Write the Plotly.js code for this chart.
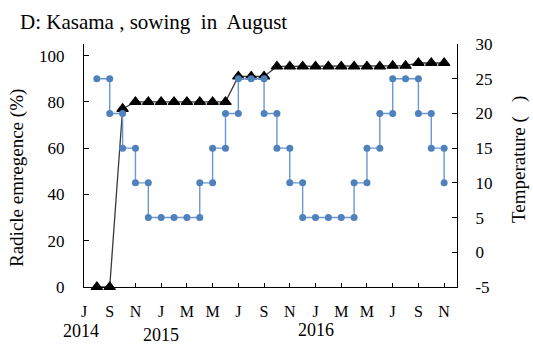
<!DOCTYPE html>
<html>
<head>
<meta charset="utf-8">
<script src="https://cdn.plot.ly/plotly-3.0.1.min.js"></script>
<style>html,body{margin:0;padding:0;background:#fff;}#chart{width:533px;height:347px;}</style>
</head>
<body>
<div id="chart"></div>
<script>
// Month index: 0 = Jul 2014 ... 28 = Nov 2016
var monthTicks = [0, 2, 4, 6, 8, 10, 12, 14, 16, 18, 20, 22, 24, 26, 28];
var monthLabels = ["J", "S", "N", "J", "M", "M", "J", "S", "N", "J", "M", "M", "J", "S", "N"];

// Radicle emergence (%) — left axis
var emergenceMonth = [1, 2, 3, 4, 5, 6, 7, 8, 9, 10, 11, 12, 13, 14, 15, 16, 17, 18, 19, 20, 21, 22, 23, 24, 25, 26, 27, 28];
var emergenceValue = [0, 0, 77, 80, 80, 80, 80, 80, 80, 80, 80, 91, 91, 91, 95.3, 95.3, 95.3, 95.3, 95.3, 95.3, 95.3, 95.3, 95.3, 95.6, 95.6, 96.8, 96.8, 96.8];
var leftTicks = [0, 20, 40, 60, 80, 100];

// Temperature (step outline) — right axis
var tempMonth = [1, 2, 2, 3, 3, 4, 4, 5, 5, 6, 7, 8, 9, 9, 10, 10, 11, 11, 12, 12, 13, 14, 14, 15, 15, 16, 16, 17, 17, 18, 19, 20, 21, 21, 22, 22, 23, 23, 24, 24, 25, 26, 26, 27, 27, 28, 28];
var tempValue = [25, 25, 20, 20, 15, 15, 10, 10, 5, 5, 5, 5, 5, 10, 10, 15, 15, 20, 20, 25, 25, 25, 20, 20, 15, 15, 10, 10, 5, 5, 5, 5, 5, 10, 10, 15, 15, 20, 20, 25, 25, 25, 20, 20, 15, 15, 10];
var rightTicks = [-5, 0, 5, 10, 15, 20, 25, 30];
var rightTickLabels = ["-5", "0", "5", "10", "15", "20", "25", "30"];

var years = ["2014", "2015", "2016"];
var yearMonth = [0, 6, 18];

var serif = "Liberation Serif, Times New Roman, serif";

var traces = [
  {
    x: emergenceMonth, y: emergenceValue, type: "scatter", mode: "lines+markers",
    line: {color: "#3a3a3a", width: 1.3},
    marker: {symbol: "triangle-up", size: 10, color: "#000", line: {color: "#000", width: 1.2}},
    cliponaxis: false, yaxis: "y", hoverinfo: "skip"
  },
  {
    x: tempMonth, y: tempValue, type: "scatter", mode: "lines+markers",
    line: {color: "#6b98d0", width: 1.4},
    marker: {symbol: "circle", size: 7, color: "#4f81bd"},
    cliponaxis: false, yaxis: "y2", hoverinfo: "skip"
  }
];

var yearShift = [-3, 0, 0];
var yearY = [-0.181, -0.198, -0.177];
var annotations = years.map(function (t, i) {
  return {text: t, x: yearMonth[i], xref: "x", y: yearY[i], yref: "paper",
    xshift: yearShift[i], showarrow: false, xanchor: "center", yanchor: "middle",
    font: {family: serif, size: 18, color: "#000"}};
});
annotations.push({text: "Radicle\u00a0emregence\u00a0(%)", textangle: -90,
  x: (17 - 84) / 373, xref: "paper", xanchor: "center",
  y: (287 - 178) / 243, yref: "paper", yanchor: "middle", showarrow: false,
  font: {family: serif, size: 19, color: "#000"}});
annotations.push({text: "Temperature\u00a0(\u00a0\u00a0\u00a0)", textangle: -90,
  x: (532 - 84) / 373, xref: "paper", xanchor: "right",
  y: (287 - 160) / 243, yref: "paper", yanchor: "middle", showarrow: false,
  font: {family: serif, size: 19, color: "#000"}});

var layout = {
  width: 533, height: 347,
  margin: {l: 84, r: 76, t: 44, b: 60, pad: 0},
  paper_bgcolor: "#fff", plot_bgcolor: "#fff",
  showlegend: false,
  title: {text: "D:\u00a0Kasama\u00a0,\u00a0sowing\u00a0 in\u00a0 August", x: 20 / 533, xref: "container", xanchor: "left",
    y: 1 - 22 / 347, yref: "container", yanchor: "middle",
    font: {family: serif, size: 21, color: "#000"}},
  xaxis: {
    range: [0, 29], tickmode: "array", tickvals: monthTicks, ticktext: monthLabels,
    ticks: "inside", ticklen: 4, tickcolor: "#000", showline: true, linecolor: "#000", linewidth: 1,
    showgrid: false, zeroline: false, ticklabelstandoff: 10,
    tickfont: {family: serif, size: 16, color: "#000"}
  },
  yaxis: {
    range: [0, 105], tickmode: "array", tickvals: leftTicks,
    ticks: "inside", ticklen: 5, tickcolor: "#000", showline: true, linecolor: "#000", linewidth: 1,
    showgrid: false, zeroline: false, ticklabelstandoff: 15,
    tickfont: {family: serif, size: 17, color: "#000"}
  },
  yaxis2: {
    overlaying: "y", side: "right", range: [-5, 30], tickmode: "array",
    tickvals: rightTicks, ticktext: rightTickLabels,
    ticks: "inside", ticklen: 5, tickcolor: "#000", showline: true, linecolor: "#000", linewidth: 1,
    showgrid: false, zeroline: false, ticklabelstandoff: 14,
    tickfont: {family: serif, size: 17, color: "#000"}
  },
  annotations: annotations
};

Plotly.newPlot("chart", traces, layout, {staticPlot: true, displayModeBar: false});
</script>
</body>
</html>
